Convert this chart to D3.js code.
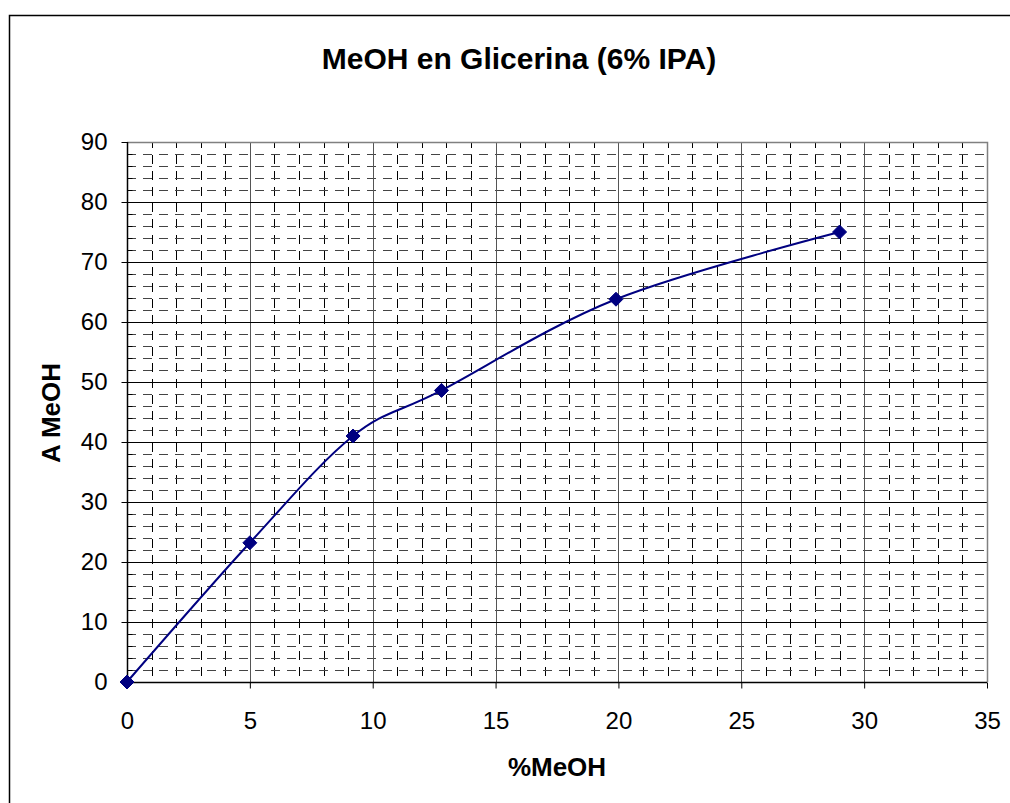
<!DOCTYPE html>
<html><head><meta charset="utf-8">
<script src="https://cdn.jsdelivr.net/npm/d3@7"></script>
<style>body{margin:0;background:#fff}svg{display:block;font-family:Arial,"Liberation Sans",sans-serif}</style>
</head><body><svg id="c" width="1010" height="803"></svg>
<script>
const xValues = [0, 5, 9.2, 12.8, 19.9, 29];
const yValues = [0, 23.2, 41, 48.6, 63.8, 75];
const xTicks = [0, 5, 10, 15, 20, 25, 30, 35];
const yTicks = [0, 10, 20, 30, 40, 50, 60, 70, 80, 90];
const titleText = "MeOH en Glicerina (6% IPA)";
const xTitle = "%MeOH";
const yTitle = "A MeOH";

const svg = d3.select("#c");
const L = 127, R = 987, T = 142, B = 682;
const x = d3.scaleLinear().domain([0, 35]).range([L, R]);
const y = d3.scaleLinear().domain([0, 90]).range([B, T]);

// outer border
svg.append("rect").attr("x", 9.5).attr("y", 15.5).attr("width", 1010).attr("height", 800)
  .attr("fill", "#fff").attr("stroke", "#000").attr("stroke-width", 1.5);

const g = svg.append("g");
const xMinor = d3.range(0, 35.001, 1).filter(v => v % 5 !== 0);
const yMinor = d3.range(0, 90.001, 2).filter(v => v % 10 !== 0);

// minor gridlines (dashed)
g.selectAll(".vmin").data(xMinor).join("line")
  .attr("x1", d => Math.round(x(d)) + 0.5).attr("x2", d => Math.round(x(d)) + 0.5)
  .attr("y1", T).attr("y2", B)
  .attr("stroke", "#000").attr("stroke-width", 1).attr("stroke-dasharray", "9,7")
  .attr("stroke-dashoffset", 3);
g.selectAll(".hmin").data(yMinor).join("line")
  .attr("y1", d => Math.round(y(d)) + 0.5).attr("y2", d => Math.round(y(d)) + 0.5)
  .attr("x1", L).attr("x2", R)
  .attr("stroke", "#444").attr("stroke-width", 1).attr("stroke-dasharray", "9,7");

// major gridlines
g.selectAll(".vmaj").data(xTicks.filter(v => v > 0 && v < 35)).join("line")
  .attr("x1", d => Math.round(x(d)) + 0.5).attr("x2", d => Math.round(x(d)) + 0.5)
  .attr("y1", T).attr("y2", B).attr("stroke", "#555").attr("stroke-width", 1);
g.selectAll(".hmaj").data(yTicks.filter(v => v > 0 && v < 90)).join("line")
  .attr("y1", d => Math.round(y(d)) + 0.5).attr("y2", d => Math.round(y(d)) + 0.5)
  .attr("x1", L).attr("x2", R).attr("stroke", "#000").attr("stroke-width", 1);

// plot border top/right
g.append("path").attr("d", `M${L},${T+0.5}H${R+0.5}V${B}`).attr("fill", "none")
  .attr("stroke", "#808080").attr("stroke-width", 1.5);

// axes
const xAxis = d3.axisBottom(x).tickValues(xTicks).tickSize(6).tickPadding(23).tickFormat(d3.format("d"));
const yAxis = d3.axisLeft(y).tickValues(yTicks).tickSize(6).tickPadding(14).tickFormat(d3.format("d"));
const xa = svg.append("g").attr("transform", `translate(0,${B + 0.5})`).call(xAxis);
const ya = svg.append("g").attr("transform", `translate(${L + 0.5},0)`).call(yAxis);
[xa, ya].forEach(a => {
  a.attr("font-size", 24).attr("font-family", "Arial, 'Liberation Sans', sans-serif");
  a.select(".domain").attr("stroke", "#000").attr("stroke-width", 1.5);
  a.selectAll(".tick line").attr("stroke", "#000");
  a.selectAll("text").attr("fill", "#000");
});
xa.select(".domain").attr("d", `M${L},0H${R}`);
ya.select(".domain").attr("d", `M0,${T}V${B}`);
// y minor ticks inside
ya.selectAll(".ymt").data(yMinor).join("line")
  .attr("x1", 0).attr("x2", 5).attr("y1", d => Math.round(y(d)) + 0.5).attr("y2", d => Math.round(y(d)) + 0.5)
  .attr("stroke", "#000");

// series line
const line = d3.line().x((d, i) => x(xValues[i])).y((d, i) => y(yValues[i])).curve(d3.curveCatmullRom.alpha(0));
svg.append("path").datum(yValues).attr("d", line).attr("fill", "none")
  .attr("stroke", "#000080").attr("stroke-width", 2);

// markers
svg.selectAll(".pt").data(yValues).join("path")
  .attr("d", "M0,-7L7,0L0,7L-7,0Z")
  .attr("transform", (d, i) => `translate(${x(xValues[i])},${y(d)})`)
  .attr("fill", "#000080").attr("stroke", "#000080").attr("stroke-width", 1);

// titles
svg.append("text").attr("x", 519).attr("y", 69).attr("text-anchor", "middle")
  .attr("font-size", 30).attr("font-weight", "bold").text(titleText);
svg.append("text").attr("x", 557).attr("y", 776).attr("text-anchor", "middle")
  .attr("font-size", 26).attr("font-weight", "bold").text(xTitle);
svg.append("text").attr("transform", "translate(60,413) rotate(-90)").attr("text-anchor", "middle")
  .attr("font-size", 26).attr("font-weight", "bold").text(yTitle);
</script></body></html>
